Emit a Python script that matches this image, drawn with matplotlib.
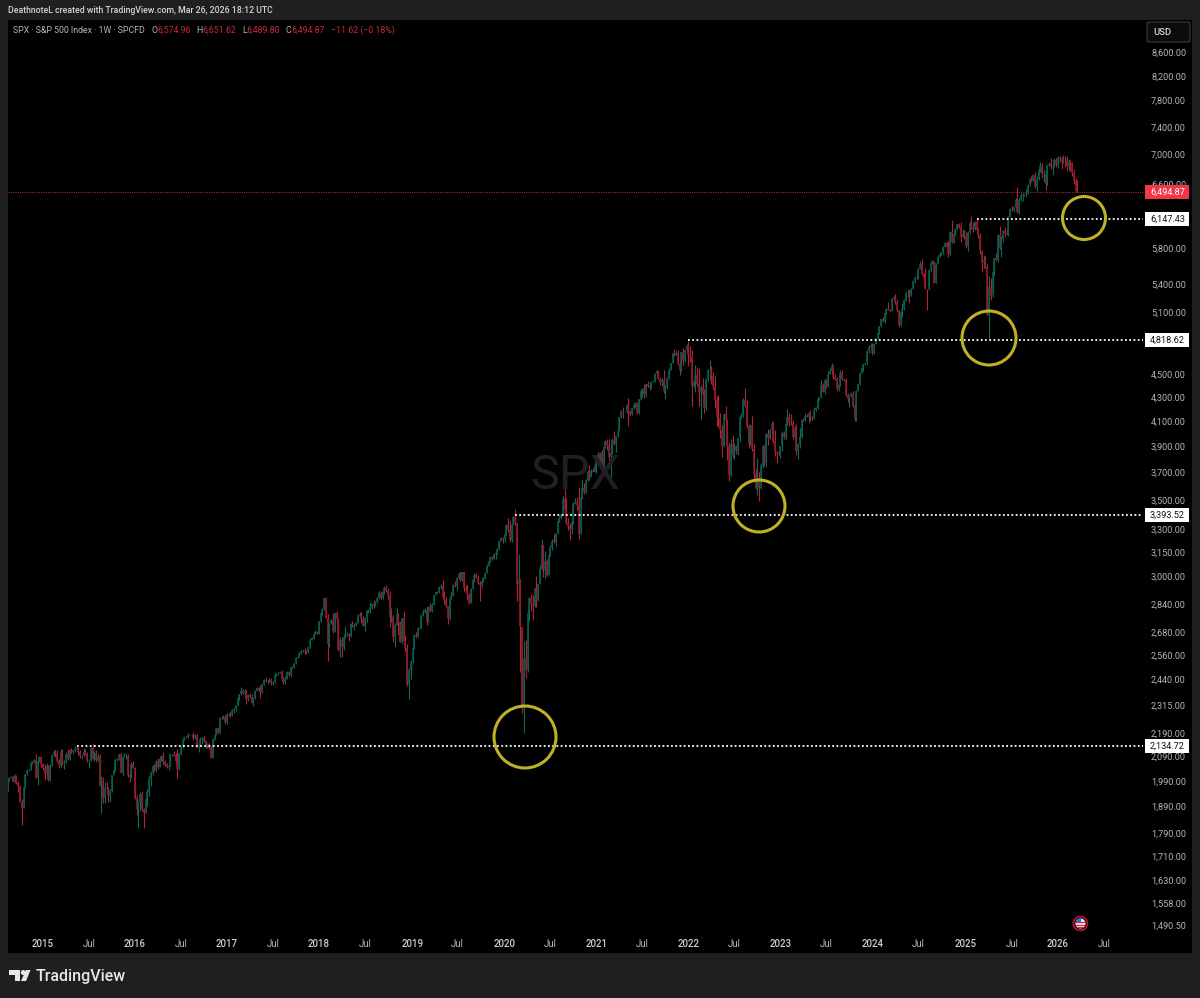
"""SPX weekly candles, TradingView dark layout."""
import matplotlib
matplotlib.use('Agg')
import matplotlib.pyplot as plt
import matplotlib.patches as patches
import matplotlib.dates as mdates
import numpy as np
import pandas as pd

plt.rcParams['font.family'] = ['Roboto', 'DejaVu Sans']

# Colors
PAGE = '#1f1f1f'
UP_BODY = '#0a5a4e'
UP_WICK = '#0c6a5c'
DOWN_BODY = '#8c1e2c'
DOWN_WICK = '#b42234'
TICK = '#b4b4b4'
RED = '#c8283c'
RING = '#bfb127'

# weekly closes, with the wick above / below the body
close_2014 = [1992, 2003, 2007, 1985, 2011, 1982, 1967, 1906, 1886, 1964, 2018, 2032, 2039, 2063, 2067, 2075, 2002, 2070, 2088, 2058]
up_2014 = [2, 3, 4, 7, 8, 4, 9, 6, 14, 1, 0, 4, 1, 8, 4, 3, 26, 7, 5, 2]
dn_2014 = [4, 3, 2, 1, 3, 3, 22, 0, 66, 2, 3, 3, 2, 5, 3, 5, 1, 30, 3, 12]

close_2015 = [2044, 2019, 2051, 1995, 2055, 2096, 2110, 2104, 2071, 2053, 2108, 2061, 2066,
              2102, 2081, 2117, 2108, 2116, 2122, 2126, 2107, 2092, 2094, 2109, 2101, 2076,
              2076, 2126, 2079, 2104, 2077, 2091, 1970, 1988, 1921, 1961, 1958, 1931, 1951,
              2014, 2033, 2075, 2079, 2099, 2023, 2089, 2090, 2091, 2012, 2005, 2060, 2044]
up_2015 = [6, 14, 12, 5, 5, 1, 9, 8, 15, 8, 14, 12, 8,
           5, 18, 3, 9, 1, 12, 8, 5, 11, 4, 17, 12, 6,
           5, 6, 20, 8, 13, 12, 8, 23, 18, 25, 25, 8, 5,
           1, 14, 4, 6, 2, 6, 4, 15, 14, 10, 18, 8, 13]
dn_2015 = [12, 26, 11, 5, 4, 5, 3, 15, 4, 12, 8, 6, 22,
           4, 4, 6, 4, 9, 6, 5, 10, 7, 13, 4, 6, 8,
           32, 3, 1, 8, 10, 6, 0, 103, 18, 18, 12, 23, 23,
           5, 1, 3, 5, 3, 3, 13, 3, 11, 5, 20, 3, 3]

close_2016 = [1922, 1880, 1906, 1940, 1880, 1865, 1917, 1948, 1999, 2022, 2050, 2035, 2073,
              2048, 2081, 2091, 2065, 2057, 2047, 2052, 2099, 2099, 2096, 2071, 2037, 2103,
              2130, 2162, 2175, 2174, 2183, 2184, 2184, 2169, 2180, 2128, 2139, 2165, 2168,
              2154, 2133, 2141, 2126, 2085, 2164, 2182, 2213, 2192, 2260, 2258, 2264, 2239]
up_2016 = [2, 12, 6, 7, 9, 3, 6, 8, 10, 6, 6, 8, 2,
           12, 2, 7, 18, 11, 6, 3, 1, 3, 14, 8, 49, 0,
           5, 2, 1, 3, 8, 3, 4, 10, 8, 8, 8, 7, 7,
           10, 8, 7, 6, 7, 3, 4, 1, 3, 2, 8, 9, 7]
dn_2016 = [4, 22, 68, 34, 8, 55, 0, 26, 17, 30, 10, 5, 10,
           10, 3, 8, 11, 5, 6, 13, 3, 7, 6, 10, 36, 4,
           8, 3, 1, 4, 3, 3, 3, 8, 3, 1, 18, 3, 21,
           3, 8, 6, 4, 2, 1, 3, 2, 6, 3, 4, 3, 6]

close_2017 = [2277, 2275, 2271, 2295, 2297, 2316, 2351, 2367, 2383, 2373, 2378, 2344, 2363,
              2355, 2329, 2348, 2384, 2399, 2390, 2381, 2415, 2439, 2431, 2433, 2438, 2423,
              2425, 2459, 2472, 2472, 2476, 2441, 2425, 2443, 2476, 2461, 2500, 2502, 2519,
              2549, 2553, 2575, 2581, 2587, 2582, 2578, 2602, 2642, 2652, 2675, 2683, 2674]
up_2017 = [5, 3, 11, 5, 5, 3, 1, 4, 18, 9, 15, 9, 6,
           9, 15, 3, 4, 6, 5, 23, 8, 4, 15, 5, 10, 8,
           8, 4, 1, 5, 4, 8, 10, 13, 5, 6, 1, 6, 1,
           3, 5, 1, 7, 1, 9, 4, 4, 8, 2, 3, 11, 8]
dn_2017 = [10, 8, 9, 4, 13, 7, 4, 8, 4, 4, 4, 22, 8,
           3, 2, 18, 0, 2, 8, 29, 5, 2, 3, 12, 8, 9,
           10, 3, 3, 10, 3, 3, 8, 7, 3, 3, 8, 3, 6,
           2, 3, 3, 7, 2, 13, 9, 3, 3, 3, 5, 3, 2]

close_2018 = [2743, 2786, 2810, 2873, 2762, 2620, 2732, 2747, 2691, 2786, 2752, 2588, 2641,
              2604, 2656, 2670, 2670, 2663, 2728, 2713, 2721, 2735, 2779, 2780, 2755, 2718,
              2760, 2801, 2802, 2819, 2840, 2833, 2850, 2875, 2902, 2872, 2905, 2930, 2914,
              2885, 2767, 2768, 2658, 2723, 2781, 2736, 2632, 2760, 2633, 2600, 2416, 2486]
up_2018 = [3, 3, 5, 0, 6, 20, 3, 10, 42, 3, 15, 0, 18,
           15, 16, 47, 13, 10, 4, 14, 12, 3, 1, 12, 14, 18,
           3, 3, 6, 29, 2, 23, 6, 1, 14, 11, 5, 11, 17,
           16, 28, 49, 10, 9, 34, 7, 9, 0, 40, 34, 18, 8]
dn_2018 = [2, 6, 10, 3, 3, 87, 15, 5, 14, 10, 3, 3, 36,
           51, 18, 5, 10, 28, 5, 3, 20, 5, 3, 14, 22, 4,
           30, 20, 15, 15, 10, 18, 6, 5, 10, 5, 4, 6, 6,
           15, 57, 27, 30, 54, 2, 66, 2, 12, 12, 22, 8, 70]

close_2019 = [2531, 2596, 2670, 2664, 2706, 2707, 2775, 2792, 2803, 2743, 2822, 2800, 2834,
              2892, 2907, 2905, 2939, 2945, 2881, 2859, 2826, 2752, 2873, 2886, 2950, 2941,
              2990, 3013, 2976, 3025, 2932, 2918, 2888, 2847, 2926, 2978, 3007, 2992, 2961,
              2952, 2970, 2986, 3022, 3066, 3093, 3120, 3110, 3140, 3146, 3168, 3221, 3240]
up_2019 = [6, 1, 3, 12, 3, 2, 2, 21, 13, 15, 8, 22, 10,
           1, 3, 4, 2, 9, 33, 32, 18, 3, 2, 24, 6, 23,
           5, 14, 15, 1, 2, 15, 30, 15, 4, 8, 14, 13, 17,
           9, 23, 12, 5, 8, 4, 1, 3, 4, 2, 8, 4, 7]
dn_2019 = [43, 8, 5, 11, 6, 7, 4, 5, 4, 22, 4, 5, 8,
           3, 4, 3, 3, 12, 9, 20, 4, 23, 4, 8, 3, 3,
           22, 2, 4, 3, 23, 3, 24, 8, 4, 2, 10, 3, 7,
           97, 23, 6, 2, 2, 4, 7, 8, 2, 33, 7, 5, 2]

close_2020 = [3234, 3265, 3329, 3295, 3225, 3327, 3380, 3337, 2954, 2972, 2711, 2304, 2541,
              2488, 2790, 2875, 2837, 2830, 2930, 2864, 2955, 3044, 3194, 3041, 3097, 3009,
              3130, 3185, 3224, 3215, 3271, 3351, 3372, 3397, 3508, 3426, 3341, 3319, 3298,
              3348, 3477, 3484, 3465, 3270, 3509, 3585, 3558, 3638, 3699, 3663, 3709, 3703, 3756]
up_2020 = [8, 7, 1, 43, 59, 1, 5, 56, 0, 164, 11, 0, 96,
           100, 28, 4, 19, 55, 4, 70, 1, 24, 39, 4, 58, 12,
           2, 11, 11, 43, 3, 1, 15, 7, 15, 162, 84, 36, 18,
           3, 9, 31, 32, 128, 20, 60, 36, 12, 13, 50, 17, 22, 4]
dn_2020 = [28, 19, 7, 13, 11, 12, 2, 10, 99, 94, 233, 24, 113,
           41, 12, 46, 40, 82, 10, 44, 7, 2, 6, 43, 48, 9,
           1, 3, 24, 8, 26, 3, 2, 3, 2, 30, 10, 28, 69,
           31, 15, 4, 35, 37, 6, 7, 16, 8, 6, 19, 2, 6, 1]

close_2021 = [3825, 3768, 3841, 3714, 3887, 3935, 3907, 3811, 3842, 3943, 3913, 3974, 4020,
              4129, 4185, 4180, 4181, 4233, 4174, 4156, 4204, 4229, 4247, 4166, 4281, 4352,
              4369, 4327, 4411, 4395, 4387, 4436, 4441, 4509, 4535, 4458, 4432, 4455, 4357,
              4391, 4471, 4544, 4605, 4697, 4682, 4698, 4594, 4538, 4712, 4620, 4725, 4766]
up_2021 = [1, 26, 12, 23, 3, 7, 15, 43, 75, 17, 71, 4, 1,
           2, 3, 30, 4, 5, 64, 17, 2, 9, 8, 9, 4, 4,
           10, 44, 2, 27, 35, 6, 6, 4, 2, 9, 16, 10, 88,
           16, 5, 15, 3, 3, 37, 18, 29, 25, 1, 35, 4, 21]
dn_2021 = [61, 8, 2, 4, 24, 5, 37, 22, 147, 4, 9, 61, 7,
           1, 7, 56, 3, 12, 118, 16, 3, 2, 9, 6, 11, 6,
           48, 33, 29, 10, 22, 3, 7, 6, 2, 2, 27, 37, 24,
           69, 21, 11, 3, 3, 12, 6, 4, 42, 5, 37, 3, 10]

close_2022 = [4677, 4662, 4398, 4431, 4500, 4418, 4349, 4385, 4329, 4204, 4463, 4543, 4546,
              4488, 4392, 4272, 4132, 4123, 4024, 3901, 4158, 4109, 3901, 3675, 3912, 3825,
              3899, 3863, 3961, 4130, 4145, 4280, 4228, 4058, 3924, 4067, 3873, 3693, 3586,
              3639, 3583, 3752, 3901, 3771, 3993, 3965, 4026, 4072, 3934, 3852, 3845, 3840]
up_2022 = [52, 86, 66, 21, 83, 72, 141, 21, 86, 39, 2, 3, 91,
           28, 32, 96, 35, 184, 44, 42, 2, 69, 9, 29, 38, 74,
           22, 10, 2, 7, 22, 12, 97, 48, 18, 2, 73, 50, 27,
           167, 62, 12, 3, 9, 9, 38, 8, 28, 18, 93, 8, 25]
dn_2022 = [96, 44, 176, 10, 88, 18, 127, 235, 20, 42, 14, 32, 94,
           71, 26, 66, 70, 69, 66, 91, 9, 64, 109, 39, 2, 22,
           25, 29, 31, 33, 7, 11, 10, 18, 40, 15, 17, 58, 13,
           53, 92, 10, 19, 24, 32, 58, 11, 29, 12, 32, 80, 13]

close_2023 = [3895, 3999, 3972, 4071, 4136, 4090, 4079, 3970, 4046, 3862, 3917, 3971, 4109,
              4105, 4138, 4134, 4169, 4136, 4124, 4192, 4205, 4282, 4299, 4410, 4348, 4450,
              4399, 4505, 4536, 4582, 4478, 4464, 4370, 4406, 4516, 4457, 4450, 4320, 4288,
              4309, 4327, 4224, 4117, 4358, 4415, 4514, 4559, 4595, 4604, 4719, 4755, 4770]
up_2023 = [3, 16, 16, 24, 59, 27, 68, 30, 15, 32, 5, 68, 1,
           19, 25, 19, 2, 20, 8, 21, 7, 9, 3, 38, 12, 8,
           14, 23, 28, 26, 4, 27, 10, 7, 25, 23, 7, 22, 15,
           10, 20, 25, 14, 6, 6, 6, 8, 2, 3, 11, 23, 23]
dn_2023 = [31, 32, 15, 23, 4, 30, 13, 15, 24, 30, 64, 34, 7,
           8, 4, 1, 49, 34, 14, 9, 13, 10, 3, 3, 2, 22,
           16, 7, 4, 22, 15, 15, 19, 14, 7, 8, 4, 9, 27,
           74, 7, 4, 15, 17, 3, 9, 2, 30, 10, 7, 24, 4]

close_2024 = [4697, 4783, 4840, 4891, 4959, 5027, 5006, 5089, 5137, 5124, 5117, 5234, 5254,
              5205, 5123, 4967, 5100, 5128, 5223, 5303, 5305, 5278, 5347, 5432, 5465, 5460,
              5567, 5615, 5505, 5459, 5346, 5344, 5554, 5635, 5648, 5408, 5626, 5703, 5738,
              5751, 5815, 5865, 5808, 5728, 5996, 5871, 5969, 6032, 6090, 6051, 5931, 5971]
up_2024 = [24, 15, 2, 3, 4, 3, 21, 8, 2, 65, 6, 9, 10,
           37, 37, 2, 4, 65, 17, 20, 36, 24, 8, 4, 20, 30,
           3, 40, 60, 15, 120, 0, 6, 8, 12, 2, 7, 22, 8,
           6, 6, 13, 5, 80, 6, 138, 16, 12, 3, 5, 65, 60]
dn_2024 = [14, 3, 3, 4, 8, 13, 10, 15, 8, 4, 14, 3, 4,
           15, 8, 13, 2, 50, 8, 10, 50, 84, 4, 3, 25, 10,
           10, 5, 8, 20, 0, 224, 12, 25, 14, 3, 4, 10, 10,
           22, 15, 6, 10, 28, 3, 12, 15, 10, 15, 12, 63, 5]

close_2025 = [5942, 5827, 5997, 6101, 6041, 6026, 6115, 6013, 5955, 5770, 5639, 5668, 5581,
              5074, 5363, 5283, 5525, 5686, 5660, 5958, 5803, 5912, 6000, 5977, 5968, 6173,
              6279, 6260, 6297, 6389, 6238, 6389, 6450, 6467, 6460, 6482, 6584, 6664, 6644,
              6716, 6553, 6664, 6792, 6840, 6729, 6734, 6603, 6849, 6870, 6827, 6834, 6930]
up_2025 = [41, 55, 10, 27, 80, 75, 12, 32, 24, 25, 10, 55, 45,
           40, 118, 100, 30, 5, 60, 5, 100, 30, 16, 50, 50, 14,
           5, 30, 20, 20, 170, 20, 30, 15, 0, 50, 4, 8, 45,
           10, 48, 40, 15, 50, 45, 55, 50, 3, 25, 80, 25, 15]
dn_2025 = [35, 20, 60, 30, 15, 30, 10, 10, 35, 40, 100, 60, 8,
           5, 239, 60, 25, 40, 10, 20, 15, 110, 35, 50, 15, 30,
           2, 15, 20, 12, 15, 25, 15, 70, 15, 30, 12, 10, 20,
           10, 3, 45, 10, 30, 45, 100, 82, 15, 10, 25, 110, 10]

close_2026 = [6858, 6966, 6940, 6916, 6939, 6932, 6836, 6910, 6879, 6740, 6632, 6506, 6494.87]
up_2026 = [25, 10, 20, 25, 60, 45, 45, 30, 20, 20, 60, 40, 76.66]
dn_2026 = [30, 40, 50, 120, 40, 110, 60, 50, 110, 30, 30, 20, 5.07]

first_open = 1955
last_open = 6574.96
first_monday = '2014-08-18'

price_ticks = [8600, 8200, 7800, 7400, 7000, 6600, 6200, 5800, 5400, 5100, 4500, 4300, 4100,
               3900, 3700, 3500, 3300, 3150, 3000, 2840, 2680, 2560, 2440, 2315, 2190, 2090, 1990,
               1890, 1790, 1710, 1630, 1558, 1490.5]
time_ticks = ['2015-01-05', '2015-07-06', '2016-01-04', '2016-07-04', '2017-01-02', '2017-07-03',
              '2018-01-01', '2018-07-02', '2019-01-07', '2019-07-01', '2020-01-06', '2020-07-06',
              '2021-01-04', '2021-07-05', '2022-01-03', '2022-07-04', '2023-01-02', '2023-07-03',
              '2024-01-01', '2024-07-01', '2025-01-06', '2025-07-07', '2026-01-05', '2026-07-06']
time_labels = ['2015', 'Jul', '2016', 'Jul', '2017', 'Jul', '2018', 'Jul', '2019', 'Jul', '2020', 'Jul',
               '2021', 'Jul', '2022', 'Jul', '2023', 'Jul', '2024', 'Jul', '2025', 'Jul', '2026', 'Jul']

# level, first week of the dotted line
level_prices = [2134.72, 3393.52, 4818.62, 6147.43]
level_starts = ['2015-05-18', '2020-02-17', '2022-01-03', '2025-02-17']
last_price = 6494.87

# ring centre x (px), centre y (px), radius (px)
rings = [(525, 737, 31), (759, 506, 26), (989, 338, 27), (1084, 218, 21.5)]

close = np.array(close_2014 + close_2015 + close_2016 + close_2017 + close_2018 + close_2019 + close_2020
                 + close_2021 + close_2022 + close_2023 + close_2024 + close_2025 + close_2026, dtype=float)
up = np.array(up_2014 + up_2015 + up_2016 + up_2017 + up_2018 + up_2019 + up_2020
              + up_2021 + up_2022 + up_2023 + up_2024 + up_2025 + up_2026, dtype=float)
dn = np.array(dn_2014 + dn_2015 + dn_2016 + dn_2017 + dn_2018 + dn_2019 + dn_2020
              + dn_2021 + dn_2022 + dn_2023 + dn_2024 + dn_2025 + dn_2026, dtype=float)
assert len(close) == len(up) == len(dn), (len(close), len(up), len(dn))

opens = np.r_[first_open, close[:-1]]
opens[-1] = last_open
top = np.maximum(opens, close)
bot = np.minimum(opens, close)
high = top + up
low = bot - dn
dates = mdates.date2num(pd.date_range(first_monday, periods=len(close), freq='7D'))
rising = close >= opens


# pixel <-> data mapping of the pane
def price_at(y):
    return 8600 * np.exp(-(y - 52) / 498)


def y_at(price):
    return 52 + 498 * np.log(8600 / price)


def date_at(x):
    return mdates.date2num(pd.Timestamp('2015-01-05')) + (x - 43) * 574 * 7 / 1015


W, H = 1200, 998
L, R, T, B = 8, 1192, 20, 953
fig = plt.figure(figsize=(W / 100, H / 100), dpi=100, facecolor=PAGE)
ax = fig.add_axes([L / W, 1 - B / H, (R - L) / W, (B - T) / H], facecolor='black')
ax.set_yscale('log')
ax.set_xlim(date_at(L), date_at(R))
ax.set_ylim(price_at(B), price_at(T))
for s in ax.spines.values():
    s.set_visible(False)

wick_colors = np.where(rising, UP_WICK, DOWN_WICK)
body_colors = np.where(rising, UP_BODY, DOWN_BODY)
ax.vlines(dates, low, high, colors=wick_colors, lw=0.8, zorder=3)
ax.vlines(dates, bot, top, colors=body_colors, lw=1.2, zorder=4)

# price and time scales sit inside the pane
ax.yaxis.tick_right()
ax.set_yticks(price_ticks, [f'{p:,.2f}' for p in price_ticks])
ax.yaxis.set_minor_locator(matplotlib.ticker.NullLocator())
ax.tick_params(axis='y', length=0, pad=-29.5, labelsize=6.55, labelcolor=TICK)
ax.set_xticks(mdates.date2num(pd.to_datetime(time_ticks)), time_labels)
ax.tick_params(axis='x', length=0, pad=-10, labelsize=6.9, labelcolor=TICK)
for lab in ax.get_xticklabels():
    if lab.get_text() != 'Jul':
        lab.set_color('#cfcfcf')
        lab.set_fontweight('medium')

# dotted levels, stop at the scale
x_end = date_at(1143)
for p, start in zip(level_prices, level_starts):
    ax.plot([mdates.date2num(pd.Timestamp(start)), x_end], [p, p], color='white', lw=1.3,
            ls=(0, (1.0, 1.35)), zorder=6)
ax.plot([date_at(L), x_end], [last_price, last_price], color='#d8283c', lw=0.7,
        ls=(0, (1, 1.4)), zorder=2)

# overlay in pixels for the chrome
ov = fig.add_axes([0, 0, 1, 1], facecolor='none')
ov.set_xlim(0, W)
ov.set_ylim(H, 0)
ov.axis('off')

ov.text(575.5, 476, 'SPX', ha='center', va='center', fontsize=35, color='#202024', zorder=0)

ov.text(8, 10.5, 'DeathnoteL created with TradingView.com, Mar 26, 2026 18:12 UTC', fontsize=6.35,
        color='#d4d4d4', va='center', fontweight='medium')

legend_parts = [(13, 'SPX · S&P 500 Index · 1W · SPCFD', '#b4b4b4'), (151, 'O', '#b4b4b4'),
                (157, '6,574.96', RED), (196, 'H', '#b4b4b4'), (202, '6,651.62', RED),
                (242, 'L', '#b4b4b4'), (246, '6,489.80', RED), (286, 'C', '#b4b4b4'),
                (291, '6,494.87', RED), (331, '−11.62 (−0.18%)', RED)]
for x, txt, col in legend_parts:
    ov.text(x, 30.5, txt, fontsize=6.35, color=col, va='center')

# USD button
ov.add_patch(patches.FancyBboxPatch((1149, 24), 39, 16, boxstyle='round,pad=2', fc='#0c0c0c',
                                    ec='#3c3c3c', lw=0.8))
ov.text(1153, 32, 'USD', fontsize=6.8, color='#d8d8d8', va='center', fontweight='medium')

# level tags on the scale
for p in level_prices:
    y = y_at(p)
    ov.add_patch(patches.Rectangle((1145, y - 7), 44, 14, fc='white', ec='none', zorder=5))
    ov.text(1185, y, f'{p:,.2f}', fontsize=6.55, color='#111111', ha='right', va='center', zorder=6)
y = y_at(last_price)
ov.add_patch(patches.Rectangle((1145, y - 7), 44, 14, fc='#f23645', ec='none', zorder=5))
ov.text(1185, y, f'{last_price:,.2f}', fontsize=6.55, color='white', ha='right', va='center', zorder=6)

for cx, cy, r in rings:
    ov.add_patch(patches.Circle((cx, cy), r, fc='none', ec=RING, lw=2.2, zorder=7))

# flag marker
ov.add_patch(patches.Circle((1079.5, 923.5), 7, fc='#7a2a8c', ec='none'))
ov.add_patch(patches.Circle((1080.5, 923.5), 7, fc='#101014', ec='#c8102e', lw=1.1))
disc = patches.Circle((1080.5, 923.5), 5, fc='#e8e8f0', ec='none')
ov.add_patch(disc)
for yy in (921.5, 924.5, 927):
    ln = ov.plot([1074, 1087], [yy, yy], color='#d8283c', lw=0.8)[0]
    ln.set_clip_path(disc)
can = patches.Rectangle((1075, 918), 5.5, 5, fc='#3c6ed0', ec='none')
ov.add_patch(can)
can.set_clip_path(disc)

# TradingView logo
ov.add_patch(patches.Polygon([(8.5, 970), (20, 970), (20, 981), (14.5, 981), (14.5, 975), (8.5, 975)],
                             fc='#e8e8e8', ec='none'))
ov.add_patch(patches.Circle((23.3, 972.5), 2.5, fc='#e8e8e8', ec='none'))
ov.add_patch(patches.Polygon([(26, 970), (30.5, 970), (26, 981), (21, 981)], fc='#e8e8e8', ec='none'))
ov.text(36, 976.5, 'TradingView', fontsize=11.5, color='#e8e8e8', va='center', fontweight='medium')

plt.savefig('out.png', dpi=100, facecolor=PAGE)
plt.close()
